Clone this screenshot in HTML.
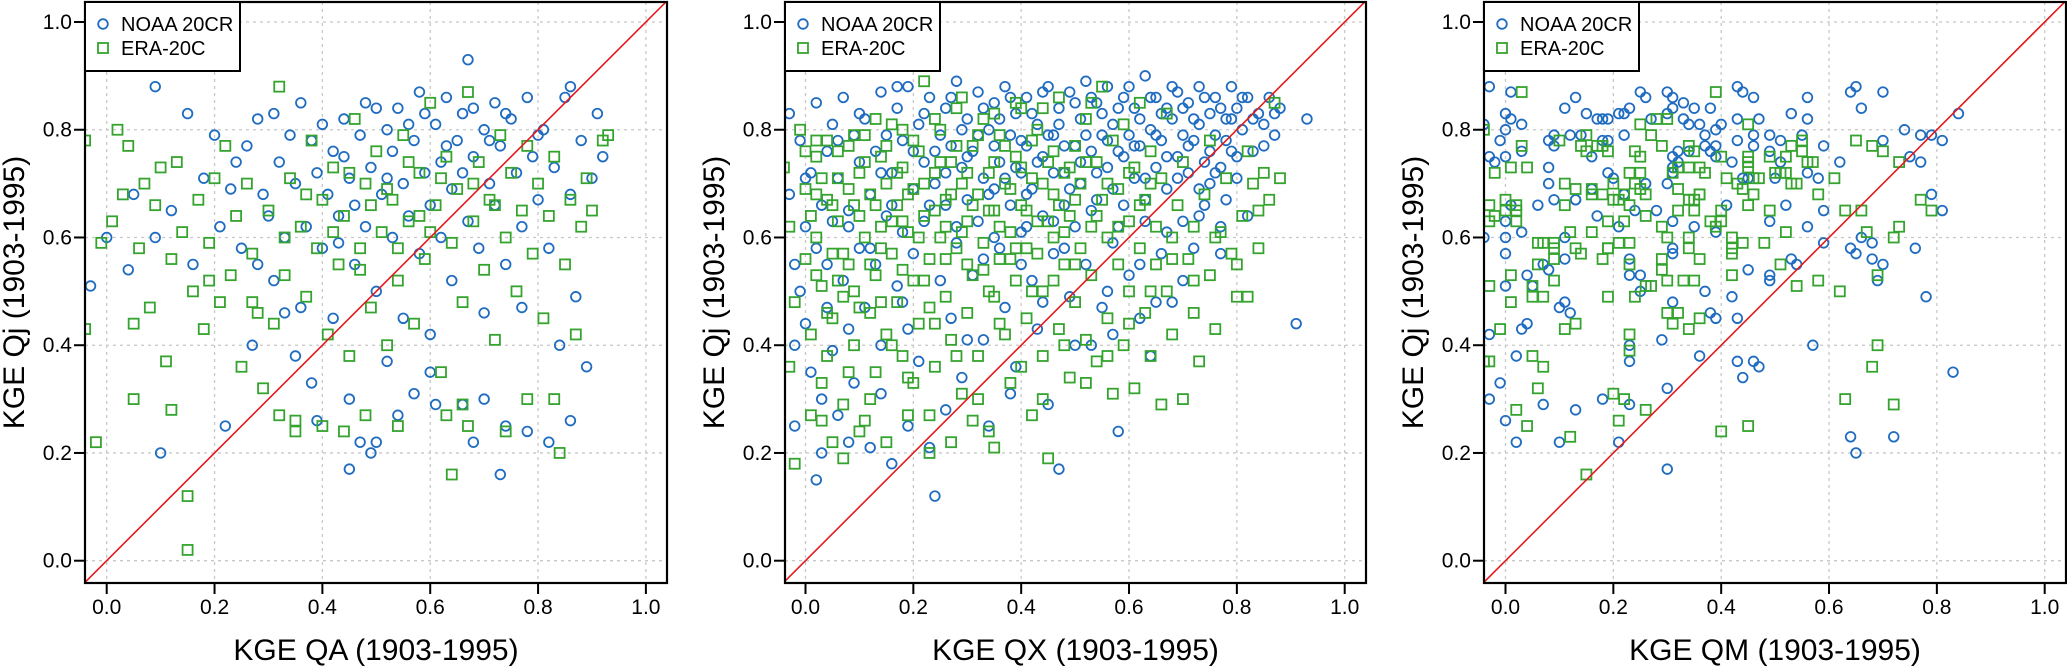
<!DOCTYPE html>
<html><head><meta charset="utf-8"><style>
html,body{margin:0;padding:0;background:#fff;}
svg{display:block;font-family:"Liberation Sans",Arial,sans-serif;}
</style></head><body>
<svg id="chart" width="2067" height="666" viewBox="0 0 2067 666" xmlns="http://www.w3.org/2000/svg"></svg>
<script>
const ticks = [0, 0.2, 0.4, 0.6, 0.8, 1.0];
const tickLabels = ["0.0","0.2","0.4","0.6","0.8","1.0"];
const xTitles = ["KGE QA (1903-1995)","KGE QX (1903-1995)","KGE QM (1903-1995)"];
const yTitle = "KGE Qj (1903-1995)";
const seriesNames = ["NOAA 20CR","ERA-20C"];

const qaNoaa = [[0.09,0.88],[-0.03,0.51],[0.00,0.60],[0.04,0.54],[0.05,0.68],[0.09,0.60],[0.10,0.20],[0.12,0.65],[0.15,0.83],[0.16,0.55],[0.18,0.71],[0.20,0.79],[0.21,0.62],[0.22,0.25],[0.23,0.69],[0.25,0.58],[0.26,0.77],[0.27,0.40],[0.28,0.82],[0.29,0.68],[0.30,0.64],[0.31,0.52],[0.31,0.83],[0.32,0.74],[0.33,0.60],[0.34,0.79],[0.35,0.70],[0.36,0.47],[0.36,0.85],[0.37,0.62],[0.38,0.78],[0.38,0.33],[0.39,0.72],[0.40,0.81],[0.40,0.58],[0.41,0.68],[0.42,0.45],[0.42,0.76],[0.43,0.64],[0.44,0.82],[0.45,0.17],[0.45,0.30],[0.45,0.71],[0.46,0.55],[0.47,0.22],[0.47,0.79],[0.48,0.62],[0.48,0.85],[0.49,0.20],[0.49,0.73],[0.50,0.22],[0.50,0.50],[0.51,0.68],[0.52,0.80],[0.52,0.37],[0.53,0.60],[0.53,0.76],[0.54,0.84],[0.55,0.45],[0.55,0.70],[0.56,0.64],[0.57,0.78],[0.57,0.31],[0.58,0.57],[0.58,0.87],[0.59,0.72],[0.60,0.66],[0.60,0.42],[0.61,0.81],[0.61,0.29],[0.62,0.74],[0.62,0.60],[0.63,0.86],[0.64,0.52],[0.64,0.69],[0.65,0.78],[0.66,0.29],[0.66,0.83],[0.67,0.93],[0.67,0.63],[0.68,0.22],[0.68,0.75],[0.69,0.58],[0.70,0.80],[0.70,0.46],[0.71,0.70],[0.72,0.85],[0.72,0.66],[0.73,0.16],[0.73,0.77],[0.74,0.25],[0.74,0.55],[0.75,0.82],[0.76,0.72],[0.77,0.62],[0.78,0.86],[0.78,0.24],[0.79,0.75],[0.80,0.67],[0.81,0.80],[0.82,0.58],[0.83,0.73],[0.84,0.40],[0.85,0.86],[0.86,0.88],[0.86,0.68],[0.87,0.49],[0.88,0.78],[0.89,0.36],[0.90,0.71],[0.91,0.83],[0.92,0.75],[0.35,0.38],[0.39,0.26],[0.54,0.27],[0.60,0.35],[0.70,0.30],[0.77,0.47],[0.82,0.22],[0.86,0.26],[0.50,0.84],[0.44,0.75],[0.46,0.66],[0.52,0.71],[0.56,0.81],[0.63,0.77],[0.68,0.84],[0.71,0.78],[0.74,0.83],[0.80,0.79],[0.66,0.72],[0.59,0.83],[0.43,0.59],[0.33,0.46],[0.28,0.55],[0.24,0.74]];
const qaEra = [[-0.04,0.78],[-0.04,0.43],[-0.02,0.22],[-0.01,0.59],[0.01,0.63],[0.02,0.80],[0.03,0.68],[0.04,0.77],[0.05,0.44],[0.05,0.30],[0.06,0.58],[0.07,0.70],[0.08,0.47],[0.09,0.66],[0.10,0.73],[0.11,0.37],[0.12,0.28],[0.12,0.56],[0.13,0.74],[0.14,0.61],[0.15,0.02],[0.15,0.12],[0.16,0.50],[0.17,0.67],[0.18,0.43],[0.19,0.59],[0.20,0.71],[0.21,0.48],[0.22,0.77],[0.23,0.53],[0.24,0.64],[0.25,0.36],[0.26,0.70],[0.27,0.57],[0.28,0.46],[0.29,0.32],[0.30,0.65],[0.31,0.44],[0.32,0.27],[0.32,0.88],[0.33,0.53],[0.34,0.71],[0.35,0.24],[0.35,0.26],[0.36,0.62],[0.37,0.49],[0.38,0.78],[0.39,0.58],[0.40,0.25],[0.40,0.67],[0.41,0.42],[0.42,0.73],[0.43,0.55],[0.44,0.24],[0.44,0.64],[0.45,0.38],[0.46,0.82],[0.47,0.58],[0.48,0.27],[0.48,0.70],[0.49,0.47],[0.50,0.76],[0.51,0.61],[0.52,0.40],[0.53,0.67],[0.54,0.25],[0.54,0.52],[0.55,0.79],[0.56,0.63],[0.57,0.44],[0.58,0.72],[0.59,0.56],[0.60,0.85],[0.61,0.66],[0.62,0.35],[0.63,0.27],[0.63,0.75],[0.64,0.16],[0.64,0.59],[0.65,0.69],[0.66,0.48],[0.66,0.29],[0.67,0.25],[0.67,0.87],[0.68,0.63],[0.69,0.74],[0.70,0.54],[0.71,0.67],[0.72,0.41],[0.73,0.79],[0.74,0.24],[0.74,0.60],[0.75,0.72],[0.76,0.50],[0.77,0.65],[0.78,0.30],[0.78,0.77],[0.79,0.57],[0.80,0.70],[0.81,0.45],[0.82,0.64],[0.83,0.30],[0.83,0.75],[0.84,0.20],[0.85,0.55],[0.86,0.67],[0.87,0.42],[0.88,0.62],[0.89,0.71],[0.90,0.65],[0.92,0.78],[0.93,0.79],[0.45,0.72],[0.52,0.69],[0.58,0.64],[0.62,0.71],[0.56,0.74],[0.49,0.66],[0.42,0.61],[0.37,0.68],[0.68,0.70],[0.72,0.66],[0.60,0.61],[0.54,0.58],[0.47,0.54],[0.33,0.60],[0.27,0.48],[0.19,0.52]];

const qxNoaa = [[-0.03,0.68],[-0.02,0.25],[-0.02,0.55],[-0.01,0.78],[0.00,0.44],[0.00,0.62],[0.01,0.72],[-0.03,0.83],[0.01,0.35],[-0.01,0.50],[0.02,0.85],[0.02,0.58],[0.03,0.30],[0.03,0.66],[0.04,0.76],[0.04,0.47],[0.05,0.81],[0.05,0.39],[0.05,0.63],[0.03,0.20],[0.06,0.71],[0.07,0.52],[0.07,0.86],[0.08,0.43],[0.08,0.65],[0.09,0.79],[0.09,0.33],[0.10,0.58],[0.10,0.74],[0.06,0.27],[0.11,0.82],[0.11,0.47],[0.12,0.68],[0.12,0.21],[0.13,0.76],[0.13,0.55],[0.14,0.87],[0.14,0.40],[0.15,0.64],[0.15,0.79],[0.16,0.72],[0.16,0.18],[0.17,0.84],[0.17,0.51],[0.18,0.61],[0.18,0.78],[0.19,0.43],[0.19,0.88],[0.20,0.69],[0.20,0.57],[0.21,0.81],[0.21,0.37],[0.22,0.74],[0.22,0.63],[0.23,0.86],[0.23,0.21],[0.24,0.12],[0.24,0.70],[0.25,0.79],[0.25,0.52],[0.26,0.84],[0.26,0.66],[0.27,0.45],[0.27,0.77],[0.28,0.89],[0.28,0.59],[0.29,0.73],[0.29,0.34],[0.30,0.82],[0.30,0.67],[0.31,0.76],[0.31,0.53],[0.32,0.87],[0.32,0.63],[0.33,0.71],[0.33,0.41],[0.34,0.80],[0.34,0.25],[0.35,0.69],[0.35,0.85],[0.36,0.74],[0.36,0.58],[0.37,0.88],[0.37,0.47],[0.38,0.79],[0.38,0.66],[0.39,0.83],[0.39,0.36],[0.40,0.72],[0.40,0.61],[0.41,0.86],[0.41,0.77],[0.42,0.69],[0.42,0.52],[0.43,0.81],[0.43,0.43],[0.44,0.75],[0.44,0.64],[0.45,0.88],[0.45,0.29],[0.46,0.79],[0.46,0.57],[0.47,0.84],[0.47,0.17],[0.48,0.72],[0.48,0.66],[0.49,0.87],[0.49,0.49],[0.50,0.77],[0.50,0.62],[0.51,0.82],[0.51,0.70],[0.52,0.89],[0.52,0.55],[0.53,0.76],[0.53,0.40],[0.54,0.85],[0.54,0.67],[0.55,0.79],[0.55,0.47],[0.56,0.73],[0.56,0.88],[0.57,0.81],[0.57,0.59],[0.58,0.24],[0.58,0.76],[0.59,0.86],[0.59,0.66],[0.60,0.79],[0.60,0.53],[0.61,0.84],[0.61,0.71],[0.62,0.77],[0.62,0.45],[0.63,0.90],[0.63,0.63],[0.64,0.80],[0.64,0.38],[0.65,0.73],[0.65,0.86],[0.66,0.78],[0.66,0.57],[0.67,0.84],[0.67,0.69],[0.68,0.82],[0.68,0.48],[0.69,0.75],[0.69,0.87],[0.70,0.79],[0.70,0.63],[0.71,0.85],[0.71,0.72],[0.72,0.78],[0.72,0.58],[0.73,0.88],[0.73,0.81],[0.74,0.74],[0.74,0.66],[0.75,0.83],[0.75,0.70],[0.76,0.79],[0.76,0.86],[0.77,0.73],[0.78,0.82],[0.78,0.67],[0.79,0.88],[0.79,0.76],[0.80,0.84],[0.80,0.71],[0.77,0.62],[0.81,0.80],[0.82,0.86],[0.83,0.76],[0.84,0.83],[0.85,0.81],[0.86,0.86],[0.87,0.79],[0.88,0.84],[0.91,0.44],[0.93,0.82],
[0.22,0.83],[0.24,0.76],[0.26,0.72],[0.27,0.86],[0.29,0.80],[0.30,0.75],[0.32,0.79],[0.33,0.84],[0.34,0.68],[0.35,0.77],[0.36,0.82],[0.37,0.71],[0.38,0.86],[0.39,0.73],[0.40,0.78],[0.41,0.68],[0.42,0.83],[0.43,0.74],[0.44,0.87],[0.45,0.79],[0.46,0.72],[0.47,0.81],[0.48,0.77],[0.49,0.69],[0.50,0.85],[0.51,0.74],[0.52,0.79],[0.53,0.86],[0.54,0.72],[0.55,0.83],[0.56,0.78],[0.57,0.69],[0.58,0.84],[0.59,0.75],[0.60,0.88],[0.61,0.77],[0.62,0.82],[0.63,0.71],[0.64,0.86],[0.65,0.79],[0.66,0.83],[0.67,0.75],[0.68,0.88],[0.69,0.71],[0.70,0.84],[0.71,0.77],[0.72,0.82],[0.73,0.69],[0.74,0.86],[0.75,0.76],[0.76,0.72],[0.77,0.84],[0.78,0.78],[0.79,0.82],[0.80,0.75],[0.81,0.86],[0.83,0.82],[0.85,0.77],[0.87,0.83],[0.53,0.65],[0.58,0.62],[0.63,0.67],[0.67,0.61],[0.73,0.64],[0.46,0.63],[0.40,0.55],[0.35,0.60],[0.44,0.48],[0.56,0.50],[0.62,0.55],[0.70,0.52],[0.77,0.57],[0.82,0.64],[0.50,0.40],[0.38,0.31],[0.30,0.41],[0.26,0.28],[0.19,0.25],[0.14,0.31],[0.08,0.22],[0.02,0.15],[-0.02,0.40],[0.04,0.55],[0.08,0.62],[0.12,0.58],[0.16,0.66],[0.18,0.48],[0.10,0.83],[0.14,0.72],[0.20,0.76],[0.06,0.78],[0.00,0.71],[0.17,0.88],[0.23,0.66],[0.28,0.62],[0.33,0.56],[0.41,0.62],[0.48,0.58],[0.57,0.42],[0.65,0.48]];
const qxEra = [[-0.04,0.73],[-0.03,0.36],[-0.03,0.62],[-0.02,0.18],[-0.02,0.48],[-0.01,0.80],[0.00,0.56],[0.00,0.69],[0.01,0.42],[0.01,0.27],[0.02,0.75],[0.02,0.60],[0.03,0.51],[0.03,0.33],[0.04,0.67],[0.04,0.78],[0.05,0.45],[0.05,0.22],[0.05,0.57],[0.04,0.38],[0.06,0.71],[0.06,0.63],[0.07,0.49],[0.07,0.29],[0.08,0.77],[0.08,0.55],[0.09,0.66],[0.09,0.40],[0.10,0.72],[0.10,0.24],[0.11,0.60],[0.11,0.79],[0.12,0.46],[0.12,0.68],[0.13,0.53],[0.13,0.35],[0.14,0.75],[0.14,0.62],[0.15,0.42],[0.15,0.70],[0.16,0.57],[0.16,0.81],[0.17,0.48],[0.17,0.66],[0.18,0.38],[0.18,0.73],[0.19,0.61],[0.19,0.27],[0.20,0.69],[0.20,0.52],[0.21,0.76],[0.21,0.44],[0.22,0.64],[0.22,0.89],[0.23,0.56],[0.23,0.20],[0.24,0.72],[0.24,0.36],[0.25,0.60],[0.25,0.80],[0.26,0.49],[0.26,0.67],[0.27,0.74],[0.27,0.41],[0.28,0.58],[0.28,0.84],[0.29,0.70],[0.29,0.31],[0.30,0.63],[0.30,0.46],[0.31,0.77],[0.31,0.53],[0.32,0.68],[0.32,0.38],[0.33,0.82],[0.33,0.59],[0.34,0.72],[0.34,0.24],[0.35,0.65],[0.35,0.49],[0.36,0.79],[0.36,0.56],[0.37,0.70],[0.37,0.42],[0.38,0.61],[0.38,0.33],[0.39,0.75],[0.39,0.52],[0.40,0.66],[0.40,0.84],[0.41,0.58],[0.41,0.45],[0.42,0.71],[0.42,0.27],[0.43,0.63],[0.43,0.80],[0.44,0.50],[0.44,0.38],[0.45,0.74],[0.45,0.19],[0.46,0.60],[0.46,0.68],[0.47,0.43],[0.47,0.86],[0.48,0.55],[0.48,0.72],[0.49,0.34],[0.49,0.64],[0.50,0.77],[0.50,0.48],[0.51,0.58],[0.51,0.70],[0.52,0.41],[0.52,0.82],[0.53,0.62],[0.53,0.53],[0.54,0.74],[0.54,0.37],[0.55,0.67],[0.55,0.88],[0.56,0.45],[0.56,0.60],[0.57,0.78],[0.57,0.31],[0.58,0.55],[0.58,0.69],[0.59,0.40],[0.59,0.81],[0.60,0.63],[0.60,0.50],[0.61,0.73],[0.61,0.32],[0.62,0.58],[0.62,0.85],[0.63,0.46],[0.63,0.67],[0.64,0.38],[0.64,0.76],[0.65,0.55],[0.65,0.62],[0.66,0.29],[0.66,0.71],[0.67,0.50],[0.67,0.83],[0.68,0.60],[0.68,0.42],[0.69,0.66],[0.70,0.30],[0.70,0.74],[0.71,0.56],[0.72,0.46],[0.72,0.62],[0.73,0.37],[0.74,0.68],[0.75,0.53],[0.75,0.78],[0.76,0.43],[0.77,0.61],[0.78,0.71],[0.79,0.57],[0.80,0.49],[0.81,0.64],[0.82,0.76],[0.83,0.70],[0.84,0.58],[0.85,0.72],[0.86,0.67],[0.87,0.85],[0.88,0.71],[0.82,0.49],
[0.00,0.76],[0.01,0.64],[0.02,0.53],[0.03,0.71],[0.04,0.46],[0.05,0.66],[0.06,0.76],[0.07,0.57],[0.08,0.69],[0.09,0.50],[0.10,0.64],[0.11,0.74],[0.12,0.55],[0.13,0.66],[0.14,0.48],[0.15,0.77],[0.16,0.63],[0.17,0.72],[0.18,0.54],[0.19,0.68],[0.20,0.78],[0.21,0.60],[0.22,0.70],[0.23,0.47],[0.24,0.65],[0.25,0.74],[0.26,0.56],[0.27,0.68],[0.28,0.77],[0.29,0.61],[0.30,0.72],[0.31,0.66],[0.32,0.79],[0.33,0.54],[0.34,0.65],[0.35,0.74],[0.36,0.62],[0.37,0.77],[0.38,0.69],[0.39,0.58],[0.40,0.73],[0.41,0.65],[0.42,0.78],[0.43,0.57],[0.44,0.70],[0.45,0.63],[0.46,0.76],[0.47,0.66],[0.48,0.61],[0.49,0.73],[0.50,0.67],[0.52,0.74],[0.54,0.64],[0.56,0.70],[0.58,0.62],[0.60,0.72],[0.62,0.66],[0.64,0.70],[0.02,0.68],[0.06,0.52],[0.10,0.47],[0.14,0.58],[0.18,0.63],[0.22,0.52],[0.26,0.62],[0.30,0.55],[0.34,0.50],[0.38,0.56],[0.42,0.50],[0.46,0.52],[0.50,0.55],[0.08,0.35],[0.12,0.30],[0.16,0.40],[0.20,0.33],[0.24,0.44],[0.28,0.38],[0.32,0.30],[0.36,0.44],[0.40,0.36],[0.44,0.30],[0.48,0.40],[0.52,0.33],[0.56,0.38],[0.60,0.44],[0.64,0.50],[0.68,0.56],[0.72,0.52],[0.76,0.60],[0.80,0.55],[0.84,0.65],[0.03,0.26],[0.07,0.19],[0.11,0.26],[0.15,0.22],[0.19,0.34],[0.23,0.27],[0.27,0.22],[0.31,0.26],[0.35,0.21],[0.02,0.78],[0.09,0.79],[0.13,0.82],[0.18,0.80],[0.24,0.82],[0.29,0.86],[0.35,0.83],[0.39,0.85],[0.44,0.84],[0.53,0.85]];

const qmNoaa = [[-0.03,0.88],[0.01,0.87],[0.13,0.86],[0.11,0.84],[0.00,0.83],[0.01,0.82],[0.03,0.81],[0.00,0.80],[-0.04,0.81],[-0.01,0.78],[-0.03,0.75],[-0.02,0.74],[0.00,0.75],[0.03,0.76],[0.08,0.73],[0.08,0.70],[0.09,0.67],[0.06,0.66],[0.01,0.66],[0.00,0.63],[0.03,0.61],[0.00,0.60],[0.00,0.57],[-0.04,0.60],[0.00,0.51],[0.04,0.53],[0.05,0.51],[0.07,0.55],[0.08,0.54],[0.11,0.56],[0.11,0.60],[0.13,0.67],[0.10,0.47],[0.11,0.48],[0.12,0.46],[-0.03,0.42],[0.03,0.43],[0.04,0.44],[0.02,0.38],[-0.01,0.33],[-0.03,0.30],[0.07,0.29],[0.00,0.26],[0.02,0.22],[0.10,0.22],[0.13,0.28],[0.18,0.30],[0.21,0.22],[0.23,0.29],[0.23,0.37],[0.23,0.40],[0.29,0.41],[0.30,0.32],[0.30,0.17],[0.31,0.48],[0.36,0.38],[0.37,0.50],[0.38,0.46],[0.39,0.45],[0.42,0.49],[0.43,0.45],[0.43,0.37],[0.44,0.34],[0.46,0.37],[0.47,0.36],[0.45,0.54],[0.49,0.52],[0.49,0.53],[0.57,0.40],[0.53,0.56],[0.54,0.55],[0.59,0.59],[0.64,0.58],[0.65,0.57],[0.68,0.56],[0.68,0.59],[0.70,0.55],[0.69,0.52],[0.66,0.60],[0.64,0.23],[0.65,0.20],[0.72,0.23],[0.78,0.49],[0.76,0.58],[0.79,0.68],[0.81,0.65],[0.83,0.35],[0.84,0.83],[0.81,0.78],[0.79,0.79],[0.77,0.79],[0.77,0.74],[0.75,0.75],[0.74,0.80],[0.70,0.78],[0.70,0.87],[0.65,0.88],[0.64,0.87],[0.66,0.84],[0.62,0.74],[0.59,0.77],[0.59,0.65],[0.56,0.86],[0.56,0.82],[0.53,0.83],[0.55,0.79],[0.56,0.72],[0.58,0.71],[0.56,0.62],[0.52,0.66],[0.51,0.74],[0.49,0.79],[0.51,0.78],[0.50,0.71],[0.49,0.63],[0.46,0.86],[0.44,0.87],[0.43,0.88],[0.47,0.82],[0.43,0.82],[0.46,0.79],[0.43,0.78],[0.46,0.77],[0.42,0.74],[0.44,0.71],[0.41,0.66],[0.40,0.81],[0.38,0.84],[0.39,0.80],[0.36,0.81],[0.37,0.79],[0.37,0.77],[0.39,0.77],[0.38,0.76],[0.39,0.75],[0.39,0.61],[0.35,0.62],[0.34,0.81],[0.33,0.82],[0.35,0.84],[0.33,0.85],[0.31,0.86],[0.30,0.87],[0.31,0.84],[0.30,0.83],[0.27,0.82],[0.26,0.86],[0.25,0.87],[0.23,0.84],[0.22,0.83],[0.21,0.83],[0.19,0.82],[0.18,0.82],[0.17,0.82],[0.22,0.79],[0.19,0.78],[0.18,0.78],[0.16,0.75],[0.14,0.79],[0.15,0.83],[0.12,0.79],[0.09,0.79],[0.08,0.78],[0.09,0.77],[0.31,0.75],[0.31,0.73],[0.32,0.74],[0.31,0.72],[0.32,0.76],[0.34,0.76],[0.31,0.63],[0.31,0.58],[0.31,0.57],[0.28,0.65],[0.24,0.65],[0.25,0.53],[0.26,0.70],[0.30,0.70],[0.22,0.68],[0.21,0.62],[0.17,0.64],[0.19,0.72],[0.20,0.71],[0.16,0.69],[0.13,0.67],[0.23,0.56],[0.23,0.53],[0.25,0.50],[0.49,0.76],[0.45,0.71]];
const qmEra = [[0.03,0.87],[-0.04,0.80],[0.03,0.77],[0.04,0.73],[0.01,0.73],[-0.02,0.72],[-0.03,0.66],[0.00,0.67],[0.02,0.65],[0.02,0.66],[-0.03,0.63],[-0.02,0.64],[0.00,0.65],[0.02,0.63],[-0.03,0.51],[0.01,0.53],[0.01,0.48],[-0.01,0.43],[-0.03,0.37],[-0.04,0.37],[0.02,0.28],[0.04,0.25],[0.06,0.32],[0.07,0.36],[0.05,0.38],[0.06,0.59],[0.07,0.59],[0.09,0.59],[0.09,0.58],[0.09,0.56],[0.06,0.55],[0.05,0.51],[0.05,0.49],[0.07,0.49],[0.09,0.52],[0.10,0.78],[0.11,0.70],[0.11,0.66],[0.13,0.69],[0.12,0.61],[0.13,0.58],[0.14,0.57],[0.11,0.43],[0.13,0.44],[0.12,0.23],[0.15,0.16],[0.14,0.77],[0.15,0.76],[0.15,0.79],[0.16,0.69],[0.16,0.68],[0.16,0.61],[0.17,0.77],[0.18,0.77],[0.19,0.76],[0.18,0.68],[0.19,0.58],[0.19,0.58],[0.18,0.56],[0.19,0.49],[0.19,0.63],[0.20,0.31],[0.21,0.26],[0.22,0.30],[0.20,0.70],[0.20,0.67],[0.21,0.67],[0.22,0.68],[0.21,0.59],[0.23,0.59],[0.22,0.63],[0.23,0.72],[0.24,0.70],[0.23,0.66],[0.23,0.55],[0.23,0.42],[0.23,0.39],[0.25,0.81],[0.24,0.76],[0.25,0.72],[0.25,0.75],[0.25,0.69],[0.26,0.64],[0.26,0.51],[0.26,0.68],[0.27,0.51],[0.24,0.49],[0.26,0.28],[0.27,0.79],[0.28,0.82],[0.30,0.82],[0.29,0.77],[0.29,0.62],[0.30,0.60],[0.29,0.56],[0.29,0.54],[0.30,0.52],[0.30,0.46],[0.31,0.44],[0.32,0.46],[0.34,0.43],[0.33,0.52],[0.34,0.58],[0.34,0.60],[0.32,0.65],[0.32,0.69],[0.31,0.72],[0.32,0.73],[0.34,0.73],[0.34,0.77],[0.35,0.76],[0.34,0.67],[0.34,0.67],[0.35,0.67],[0.36,0.68],[0.36,0.68],[0.35,0.65],[0.35,0.52],[0.36,0.56],[0.36,0.45],[0.36,0.73],[0.37,0.72],[0.38,0.63],[0.39,0.87],[0.39,0.62],[0.40,0.65],[0.40,0.63],[0.40,0.75],[0.41,0.71],[0.40,0.24],[0.42,0.60],[0.42,0.57],[0.42,0.58],[0.42,0.53],[0.44,0.59],[0.43,0.70],[0.44,0.69],[0.45,0.73],[0.45,0.74],[0.45,0.75],[0.45,0.81],[0.45,0.66],[0.46,0.71],[0.46,0.68],[0.45,0.25],[0.47,0.71],[0.49,0.75],[0.49,0.65],[0.48,0.59],[0.50,0.72],[0.51,0.72],[0.52,0.72],[0.52,0.75],[0.53,0.77],[0.51,0.55],[0.52,0.61],[0.53,0.70],[0.54,0.70],[0.55,0.78],[0.55,0.76],[0.56,0.74],[0.57,0.74],[0.58,0.68],[0.58,0.52],[0.54,0.51],[0.61,0.71],[0.62,0.50],[0.63,0.65],[0.66,0.65],[0.63,0.30],[0.65,0.78],[0.67,0.61],[0.68,0.77],[0.70,0.76],[0.69,0.53],[0.68,0.36],[0.69,0.40],[0.72,0.60],[0.73,0.62],[0.72,0.29],[0.73,0.74],[0.77,0.67],[0.79,0.65]];

const panels = [
  {name:"qa", x0:106.7, left:85, right:667, title:xTitles[0], noaa:qaNoaa, era:qaEra},
  {name:"qx", x0:805.5, left:785, right:1366, title:xTitles[1], noaa:qxNoaa, era:qxEra},
  {name:"qm", x0:1505.5, left:1484, right:2066, title:xTitles[2], noaa:qmNoaa, era:qmEra}
];
const TOP = 2, BOTTOM = 583, Y0 = 560.7, SCALE_X = 539.2, SCALE_Y = 538.7;
const BLUE = "#1f6cc0", GREEN = "#35a42f";
const NS = "http://www.w3.org/2000/svg";
const svg = document.getElementById("chart");

function mk(tag, attrs, parent){
  const e = document.createElementNS(NS, tag);
  for (const k in attrs) e.setAttribute(k, attrs[k]);
  parent.appendChild(e);
  return e;
}
function circleMark(g, cx, cy){
  return mk("circle", {cx:cx, cy:cy, r:4.8, fill:"none", stroke:BLUE, "stroke-width":1.8}, g);
}
function squareMark(g, cx, cy){
  return mk("rect", {x:cx-5, y:cy-5, width:10, height:10, fill:"none", stroke:GREEN, "stroke-width":1.8}, g);
}

panels.forEach((p, i) => {
  const sx = v => p.x0 + v * SCALE_X;
  const sy = v => Y0 - v * SCALE_Y;
  const g = mk("g", {}, svg);
  
  

  const clipId = "clip" + i;
  const cp = mk("clipPath", {id:clipId}, g);
  mk("rect", {x:p.left, y:TOP, width:p.right-p.left, height:BOTTOM-TOP}, cp);

  const grid = mk("g", {stroke:"#c8c8c8", "stroke-width":1.3, "stroke-dasharray":"3,4"}, g);
  
  
  ticks.forEach(t => {
    mk("line", {x1:sx(t), x2:sx(t), y1:TOP, y2:BOTTOM}, grid);
    mk("line", {x1:p.left, x2:p.right, y1:sy(t), y2:sy(t)}, grid);
  });

  const pts = mk("g", {"clip-path":"url(#"+clipId+")"}, g);
  
  
  p.noaa.forEach(d => {
    const m = circleMark(pts, sx(d[0]), sy(d[1]));
    
    
  });
  p.era.forEach(d => {
    const m = squareMark(pts, sx(d[0]), sy(d[1]));
    
    
  });

  const ln = mk("line", {x1:sx(-0.1), y1:sy(-0.1), x2:sx(1.1), y2:sy(1.1), stroke:"#e41a1c", "stroke-width":1.6, "clip-path":"url(#"+clipId+")"}, g);
  
  

  const fr = mk("rect", {x:p.left, y:TOP, width:p.right-p.left, height:BOTTOM-TOP, fill:"none", stroke:"#000", "stroke-width":2.2}, g);
  
  

  ticks.forEach((t, k) => {
    mk("line", {x1:sx(t), x2:sx(t), y1:BOTTOM, y2:BOTTOM+11, stroke:"#000", "stroke-width":2}, g);
    const xl = mk("text", {x:sx(t), y:614, "text-anchor":"middle", "font-size":21}, g);
    xl.textContent = tickLabels[k];
    
    
    mk("line", {x1:p.left-11, x2:p.left, y1:sy(t), y2:sy(t), stroke:"#000", "stroke-width":2}, g);
    const yl = mk("text", {x:p.left-13, y:sy(t)+7, "text-anchor":"end", "font-size":21}, g);
    yl.textContent = tickLabels[k];
    
    
  });

  const xt = mk("text", {x:(p.left+p.right)/2, y:660, "text-anchor":"middle", "font-size":30}, g);
  xt.textContent = p.title;
  
  
  const yx = p.left - 61, yy = (TOP+BOTTOM)/2;
  const yt = mk("text", {x:yx, y:yy, "text-anchor":"middle", "font-size":30, transform:"rotate(-90 "+yx+" "+yy+")"}, g);
  yt.textContent = yTitle;
  
  

  const lg = mk("g", {}, g);
  
  
  mk("rect", {x:p.left, y:TOP, width:155, height:69, fill:"#fff", stroke:"#000", "stroke-width":2}, lg);
  const e1 = mk("g", {}, lg);
  
  
  circleMark(e1, p.left+18, 24);
  const t1 = mk("text", {x:p.left+36, y:31, "font-size":20}, e1);
  t1.textContent = seriesNames[0];
  const e2 = mk("g", {}, lg);
  
  
  squareMark(e2, p.left+18, 48);
  const t2 = mk("text", {x:p.left+36, y:55, "font-size":20}, e2);
  t2.textContent = seriesNames[1];
});
</script>
</body></html>
